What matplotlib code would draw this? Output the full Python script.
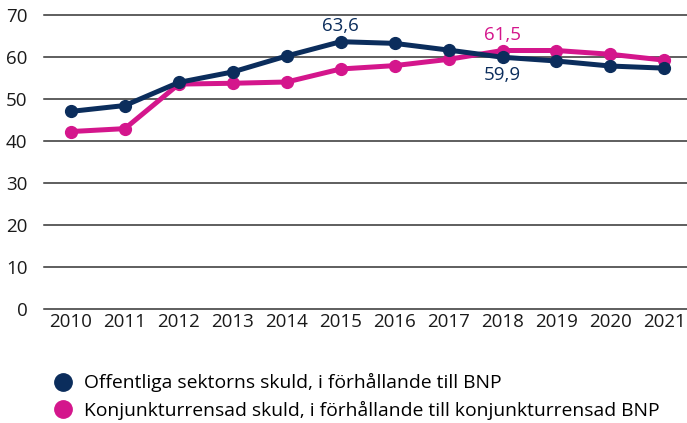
import matplotlib.pyplot as plt
from matplotlib.lines import Line2D

years = [str(y) for y in range(2010, 2022)]
offentlig = [47.0, 48.4, 53.9, 56.4, 60.2, 63.6, 63.2, 61.6, 59.9, 59.0, 57.8, 57.3]
konjunktur = [42.2, 42.9, 53.5, 53.7, 54.0, 57.1, 57.9, 59.4, 61.5, 61.5, 60.6, 59.2]
labels = ["Offentliga sektorns skuld, i förhållande till BNP",
          "Konjunkturrensad skuld, i förhållande till konjunkturrensad BNP"]

navy = "#0b2d5c"
pink = "#d4168c"

plt.rcParams.update({"font.family": ["Open Sans", "DejaVu Sans"], "font.size": 13.5})

fig = plt.figure(figsize=(6.87, 4.23), dpi=100)
ax = fig.add_axes([0.064, 0.27, 0.936, 0.695])

x = range(len(years))
ax.plot(x, konjunktur, color=pink, lw=3.6, marker="o", ms=8.5, zorder=3, clip_on=False)
ax.plot(x, offentlig, color=navy, lw=3.6, marker="o", ms=8.5, zorder=4, clip_on=False)

ax.annotate("63,6", (5, offentlig[5]), xytext=(0, 5), textcoords="offset points",
            ha="center", va="bottom", color=navy)
ax.annotate("59,9", (8, offentlig[8]), xytext=(0, -6), textcoords="offset points",
            ha="center", va="top", color=navy)
ax.annotate("61,5", (8, konjunktur[8]), xytext=(0, 5), textcoords="offset points",
            ha="center", va="bottom", color=pink)

ax.set_xlim(-0.5, 11.42)
ax.set_ylim(0, 70)
ax.set_yticks(range(0, 71, 10))
ax.set_xticks(list(x))
ax.set_xticklabels(years)
for v in range(0, 71, 10):
    ax.axhline(v, color="#333333", lw=1.1, zorder=1, clip_on=False)
for s in ax.spines.values():
    s.set_visible(False)
ax.tick_params(length=0, colors="#1a1a1a")
ax.tick_params(axis="x", pad=3)
ax.tick_params(axis="y", pad=12)

handles = [Line2D([], [], ls="none", marker="o", ms=12.5, color=c) for c in (navy, pink)]
fig.legend(handles, labels, loc="upper left", bbox_to_anchor=(0.066, 0.14),
           frameon=False, handletextpad=0.7, labelspacing=0.45, fontsize=13.9,
           handlelength=0.8, borderpad=0)

fig.savefig("out.png", dpi=100)
